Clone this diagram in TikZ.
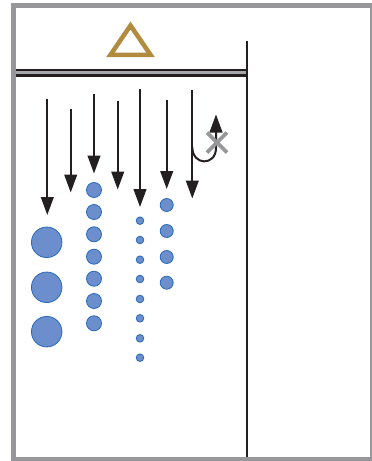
\documentclass[tikz,border=0pt]{standalone}
\usetikzlibrary{arrows.meta,calc}
\definecolor{framegray}{RGB}{150,150,155}
\definecolor{gold}{RGB}{178,140,62}
\definecolor{dotfill}{RGB}{108,142,204}
\definecolor{dotedge}{RGB}{40,105,185}
\definecolor{ink}{RGB}{35,31,32}
\tikzset{
  fall/.style={draw=ink, line width=2pt, -{Triangle[width=12.7pt,length=18pt]}},
  dot/.style={circle, fill=dotfill, draw=dotedge, line width=0.8pt, inner sep=0pt, minimum size=#1},
}
\begin{document}
\begin{tikzpicture}[x=1pt,y=-1pt]
\useasboundingbox (0,0) rectangle (372,461);
\fill[white] (0,0) rectangle (372,461);
% frame
\draw[framegray, line width=5pt] (13.5,5.5) rectangle (372.5,459.5);
% vertical wall
\draw[ink, line width=2pt] (247,41) -- (247,457);
% double line
\draw[ink, line width=7.4pt] (16,72.8) -- (248,72.8);
\draw[framegray!85, line width=3pt] (16,72.8) -- (246,72.8);
% triangle
\draw[gold, line width=4.5pt, miter limit=10] (130.5,25.5) -- (150.5,54.8) -- (110.5,54.8) -- cycle;
% falling arrows
\coordinate (a1s) at (47.3,99); \coordinate (a1e) at (47.3,215);
\coordinate (a2s) at (70.7,109); \coordinate (a2e) at (70.7,192.5);
\coordinate (a3s) at (94,93.5); \coordinate (a3e) at (94,173.5);
\coordinate (a4s) at (117.7,100.5); \coordinate (a4e) at (117.7,189.5);
\coordinate (a5s) at (140,88.5); \coordinate (a5e) at (140,207);
\coordinate (a6s) at (166.7,99.5); \coordinate (a6e) at (166.7,189);
\coordinate (a7s) at (192.3,90); \coordinate (a7e) at (192.3,198.5);
\foreach \i in {1,...,7} \draw[fall] (a\i s) -- (a\i e);
% hook arrow
\coordinate (h0) at (192.3,147);
\coordinate (h1) at (216,148);
\coordinate (h2) at (216,114.5);
\draw[fall] (h0) .. controls (192.3,166) and (216,166) .. (h1) -- (h2);
% cross
\coordinate (x) at (217,142.5);
\draw[framegray, line width=3.8pt] ($(x)+(-10,-10)$) -- ($(x)+(10,10)$);
\draw[framegray, line width=3.8pt] ($(x)+(-10,10)$) -- ($(x)+(10,-10)$);
% dots
\foreach \y [count=\k] in {242.3,287.3,331.7} \node[dot=30.5pt] (b\k) at (46.7,\y) {};
\foreach \y [count=\k] in {190,212,234.3,256.7,278.7,301,323.3} \node[dot=15pt] (m\k) at (94,\y) {};
\foreach \y [count=\k] in {220.7,240,259.7,279,299,318.3,338.3,357.7} \node[dot=7.6pt] (s\k) at (140,\y) {};
\foreach \y [count=\k] in {205,231,257,282.7} \node[dot=13pt] (r\k) at (166.7,\y) {};
\end{tikzpicture}
\end{document}
